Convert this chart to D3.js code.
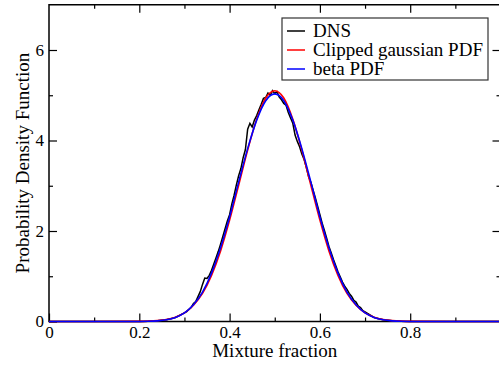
<!DOCTYPE html>
<html>
<head>
<meta charset="utf-8">
<script src="https://cdn.jsdelivr.net/npm/d3@7"></script>
<style>
  html, body { margin: 0; padding: 0; background: #fff; }
  svg { display: block; }
  text { font-family: "Liberation Serif", "Times New Roman", serif; fill: #000; }
</style>
</head>
<body>
<script>
// ---- data ----
const seriesNames = ["DNS", "Clipped gaussian PDF", "beta PDF"];
const seriesColors = ["#000000", "#ff0000", "#0000ff"];

const dnsX = [0, 0.20, 0.22, 0.24, 0.26, 0.28,
  0.300, 0.305, 0.310, 0.315, 0.320, 0.325, 0.330, 0.335, 0.340, 0.345,
  0.350, 0.355, 0.360, 0.365, 0.370, 0.375, 0.380, 0.385, 0.390, 0.395,
  0.400, 0.405, 0.410, 0.415, 0.420, 0.425, 0.430, 0.435, 0.440, 0.445,
  0.450, 0.455, 0.460, 0.465, 0.470, 0.475, 0.480, 0.485, 0.490, 0.495,
  0.500, 0.505, 0.510, 0.515, 0.520, 0.525, 0.530, 0.535, 0.540, 0.545,
  0.550, 0.555, 0.560, 0.565, 0.570, 0.575, 0.580, 0.585, 0.590, 0.595,
  0.600, 0.605, 0.610, 0.615, 0.620, 0.625, 0.630, 0.635, 0.640, 0.645,
  0.650, 0.655, 0.660, 0.665, 0.670, 0.675, 0.680, 0.685, 0.690, 0.695,
  0.700, 0.72, 0.74, 0.76, 0.78, 0.80, 1.0];
const dnsY = [0, 0, 0.005, 0.015, 0.04, 0.09,
  0.19, 0.22, 0.27, 0.31, 0.40, 0.44, 0.55, 0.66, 0.82, 0.96,
  0.95, 1.02, 1.13, 1.27, 1.41, 1.55, 1.71, 1.88, 2.05, 2.22,
  2.36, 2.60, 2.79, 3.02, 3.22, 3.38, 3.62, 3.80, 4.25, 4.38,
  4.30, 4.45, 4.55, 4.68, 4.80, 4.93, 4.95, 5.05, 5.00, 5.10,
  5.04, 5.08, 4.96, 4.90, 4.82, 4.78, 4.62, 4.50, 4.38, 4.12,
  3.98, 3.86, 3.70, 3.58, 3.40, 3.20, 3.08, 2.90, 2.73, 2.55,
  2.36, 2.17, 2.01, 1.84, 1.66, 1.52, 1.37, 1.24, 1.10, 0.99,
  0.87, 0.78, 0.71, 0.62, 0.56, 0.47, 0.43, 0.34, 0.31, 0.24,
  0.21, 0.09, 0.04, 0.015, 0.005, 0, 0];

const pdfX = [0, 0.10, 0.20, 0.22, 0.24, 0.26, 0.28, 0.30, 0.32, 0.34, 0.36, 0.38,
  0.40, 0.42, 0.44, 0.46, 0.48, 0.50, 0.52, 0.54, 0.56, 0.58, 0.60, 0.62,
  0.64, 0.66, 0.68, 0.70, 0.72, 0.74, 0.76, 0.78, 0.80, 0.90, 1.0];
const gaussY = [0, 0, 0.003, 0.008, 0.020, 0.045, 0.095, 0.19, 0.36, 0.62, 1.02, 1.56,
  2.24, 3.01, 3.79, 4.47, 4.94, 5.10, 4.94, 4.47, 3.79, 3.01, 2.24, 1.56,
  1.02, 0.62, 0.36, 0.19, 0.095, 0.045, 0.020, 0.008, 0.003, 0, 0];
const betaY = [0, 0, 0.001, 0.004, 0.014, 0.038, 0.09, 0.19, 0.37, 0.65, 1.07, 1.63,
  2.31, 3.08, 3.82, 4.45, 4.88, 5.03, 4.88, 4.45, 3.82, 3.08, 2.31, 1.63,
  1.07, 0.65, 0.37, 0.19, 0.09, 0.038, 0.014, 0.004, 0.001, 0, 0];

const xMajorTicks = [0, 0.2, 0.4, 0.6, 0.8];
const xMinorTicks = [0.1, 0.3, 0.5, 0.7, 0.9];
const xTopMajor = [0.2, 0.4, 0.6, 0.8];
const yMajorTicks = [0, 2, 4, 6];
const yMinorTicks = [1, 3, 5];

// ---- layout ----
const W = 499, H = 365;
const pLeft = 49, pTop = 4.75, pRight = 500.5, pBottom = 321.5;
const serif = '"Liberation Serif", "Times New Roman", serif';

const svg = d3.select("body").append("svg").attr("width", W).attr("height", H)
  .attr("font-family", serif);

const x = d3.scaleLinear().domain([0, 1]).range([pLeft, pRight]);
const y = d3.scaleLinear().domain([0, 7]).range([pBottom, pTop]);

function styleAxis(g) {
  g.attr("font-family", serif).attr("font-size", 17);
  g.select(".domain").remove();
  g.selectAll(".tick line").attr("stroke", "#000").attr("stroke-width", 1.2);
  g.selectAll("text").style("font-size", "17px").attr("fill", "#000")
    .style("font-family", serif);
}

// bottom axis
svg.append("g").attr("transform", `translate(0,${pBottom})`)
  .call(d3.axisBottom(x).tickValues(xMajorTicks).tickSize(-8).tickPadding(4)
    .tickFormat(d => d === 0 ? "0" : d3.format(".1f")(d)))
  .call(styleAxis);
svg.append("g").attr("transform", `translate(0,${pBottom})`)
  .call(d3.axisBottom(x).tickValues(xMinorTicks).tickSize(-4).tickFormat(""))
  .call(styleAxis);
// top axis
svg.append("g").attr("transform", `translate(0,${pTop})`)
  .call(d3.axisTop(x).tickValues(xTopMajor).tickSize(-8).tickFormat(""))
  .call(styleAxis);
svg.append("g").attr("transform", `translate(0,${pTop})`)
  .call(d3.axisTop(x).tickValues(xMinorTicks).tickSize(-4).tickFormat(""))
  .call(styleAxis);
// left axis
svg.append("g").attr("transform", `translate(${pLeft},0)`)
  .call(d3.axisLeft(y).tickValues(yMajorTicks).tickSize(-8).tickPadding(5).tickFormat(d3.format("d")))
  .call(styleAxis);
svg.append("g").attr("transform", `translate(${pLeft},0)`)
  .call(d3.axisLeft(y).tickValues(yMinorTicks).tickSize(-4).tickFormat(""))
  .call(styleAxis);
// right axis
svg.append("g").attr("transform", `translate(${pRight},0)`)
  .call(d3.axisRight(y).tickValues(yMajorTicks.slice(1)).tickSize(-8).tickFormat(""))
  .call(styleAxis);
svg.append("g").attr("transform", `translate(${pRight},0)`)
  .call(d3.axisRight(y).tickValues(yMinorTicks).tickSize(-4).tickFormat(""))
  .call(styleAxis);

// frame
svg.append("rect").attr("x", pLeft).attr("y", pTop)
  .attr("width", pRight - pLeft).attr("height", pBottom - pTop)
  .attr("fill", "none").attr("stroke", "#000").attr("stroke-width", 1.5);

// axis titles
svg.append("text").attr("x", (pLeft + pRight) / 2).attr("y", 357)
  .attr("text-anchor", "middle").style("font-size", "19px").text("Mixture fraction");
svg.append("text")
  .attr("transform", `translate(28.5,${(pTop + pBottom) / 2}) rotate(-90)`)
  .attr("text-anchor", "middle").style("font-size", "19px").text("Probability Density Function");

// curves
svg.append("clipPath").attr("id", "plotclip")
  .append("rect").attr("x", pLeft).attr("y", pTop - 2)
  .attr("width", pRight - pLeft).attr("height", pBottom - pTop + 4);

const plotG = svg.append("g").attr("clip-path", "url(#plotclip)");

const lineLin = d3.line().x(d => x(d[0])).y(d => y(d[1]));
const lineSmooth = d3.line().x(d => x(d[0])).y(d => y(d[1])).curve(d3.curveMonotoneX);

plotG.append("path").datum(dnsX.map((v, i) => [v, dnsY[i]]))
  .attr("d", lineLin).attr("fill", "none").attr("stroke", seriesColors[0]).attr("stroke-width", 1.5);
plotG.append("path").datum(pdfX.map((v, i) => [v, gaussY[i]]))
  .attr("d", lineSmooth).attr("fill", "none").attr("stroke", seriesColors[1]).attr("stroke-width", 1.6);
plotG.append("path").datum(pdfX.map((v, i) => [v, betaY[i]]))
  .attr("d", lineSmooth).attr("fill", "none").attr("stroke", seriesColors[2]).attr("stroke-width", 1.6);

// legend
const lg = svg.append("g");
lg.append("rect").attr("x", 282).attr("y", 18).attr("width", 206).attr("height", 62)
  .attr("fill", "#fff").attr("stroke", "#333").attr("stroke-width", 1.2);
const legY = [31, 50, 69];
seriesNames.forEach((name, i) => {
  lg.append("line").attr("x1", 287).attr("x2", 305).attr("y1", legY[i]).attr("y2", legY[i])
    .attr("stroke", seriesColors[i]).attr("stroke-width", 1.5);
  lg.append("text").attr("x", 313).attr("y", legY[i] + 6).style("font-size", "19px").text(name);
});
</script>
</body>
</html>
